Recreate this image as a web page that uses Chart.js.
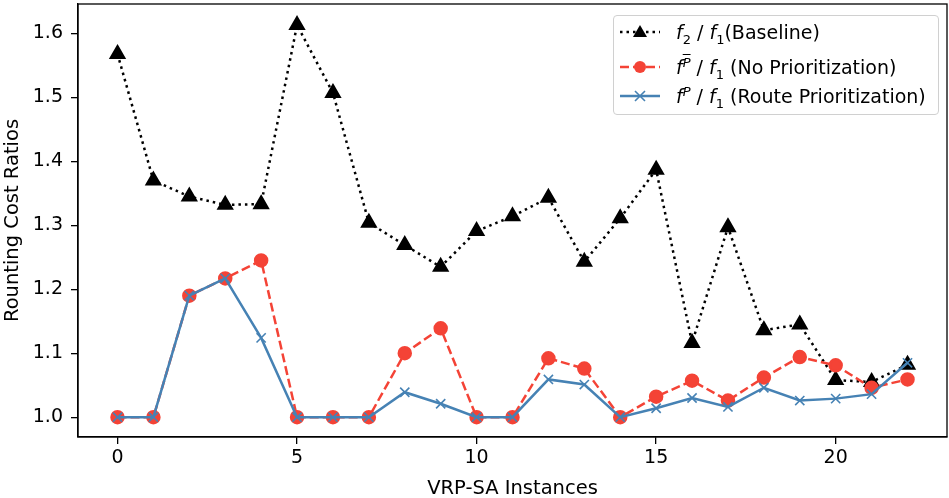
<!DOCTYPE html>
<html>
<head>
<meta charset="utf-8">
<script src="https://cdn.jsdelivr.net/npm/chart.js@4.4.1/dist/chart.umd.min.js"></script>
<style>
  html,body{margin:0;padding:0;background:#fff;}
  #wrap{position:relative;width:949px;height:498px;font-family:"DejaVu Sans",sans-serif;}
  #legend{position:absolute;left:613px;top:15px;width:326px;height:100px;border:1px solid #d0d0d0;border-radius:4px;background:rgba(255,255,255,0.85);box-sizing:border-box;}
  .row{position:absolute;left:0;height:30px;display:flex;align-items:center;font-size:19px;color:#000;white-space:nowrap;}
  .row svg{margin-left:4px;margin-right:14px;}
  .row i{font-style:italic;}
  .row sub,.row sup{font-size:13px;line-height:0;}
  .ov{text-decoration:overline;}
</style>
</head>
<body>
<div id="wrap">
  <canvas id="c" width="949" height="498"></canvas>
  <div id="legend">
    <div class="row" style="top:1px"><svg width="44" height="20"><line x1="2" y1="10" x2="42" y2="10" stroke="#000" stroke-width="2.5" stroke-dasharray="2.5,4"/><polygon points="22,3 29,15 15,15" fill="#000"/></svg><span><i>f</i><sub>2</sub> / <i>f</i><sub>1</sub>(Baseline)</span></div>
    <div class="row" style="top:36px"><svg width="44" height="20"><line x1="2" y1="10" x2="42" y2="10" stroke="#f44336" stroke-width="2.5" stroke-dasharray="9,4"/><circle cx="22" cy="10" r="6" fill="#f44336"/></svg><span><i>f</i><sup><i class="ov">P</i></sup> / <i>f</i><sub>1</sub> (No Prioritization)</span></div>
    <div class="row" style="top:65px"><svg width="44" height="20"><line x1="2" y1="10" x2="42" y2="10" stroke="#4682b4" stroke-width="2.5"/><path d="M17,5 L27,15 M27,5 L17,15" stroke="#4682b4" stroke-width="1.6"/></svg><span><i>f</i><sup><i>P</i></sup> / <i>f</i><sub>1</sub> (Route Prioritization)</span></div>
  </div>
</div>
<script>
const instances = [0,1,2,3,4,5,6,7,8,9,10,11,12,13,14,15,16,17,18,19,20,21,22];
const baseline = [1.568,1.370,1.345,1.332,1.333,1.613,1.507,1.304,1.269,1.235,1.291,1.314,1.343,1.243,1.311,1.387,1.116,1.297,1.136,1.145,1.058,1.055,1.082];
const noPrior = [1.0,1.0,1.190,1.217,1.245,1.0,1.0,1.0,1.100,1.139,1.0,1.0,1.092,1.076,1.0,1.032,1.057,1.026,1.062,1.094,1.081,1.046,1.059];
const routePrior = [1.0,1.0,1.190,1.217,1.124,1.0,1.0,1.0,1.039,1.021,1.0,1.0,1.059,1.051,1.0,1.014,1.030,1.016,1.046,1.026,1.029,1.036,1.085];
const xTicks = [0,5,10,15,20];
const yTicks = [1.0,1.1,1.2,1.3,1.4,1.5,1.6];

function pts(arr){ return arr.map((v,i)=>({x:instances[i], y:v})); }

// top and right spines
const frame = {
  id:'frame',
  afterDraw(chart){
    const a = chart.chartArea, ctx = chart.ctx;
    ctx.save();
    ctx.strokeStyle = '#000'; ctx.lineWidth = 1.3;
    ctx.strokeRect(a.left, a.top, a.right-a.left, a.bottom-a.top);
    ctx.restore();
  }
};

const font = {family:'"DejaVu Sans", sans-serif', size:19};
const titleFont = {family:'"DejaVu Sans", sans-serif', size:19.5};

new Chart(document.getElementById('c'), {
  type:'line',
  data:{
    datasets:[
      {label:'f2 / f1(Baseline)', data:pts(baseline), borderColor:'#000', backgroundColor:'#000', borderWidth:2.5, borderDash:[2.5,4], pointStyle:'triangle', pointRadius:7.5, pointHoverRadius:7.5, order:2},
      {label:'fP̄ / f1 (No Prioritization)', data:pts(noPrior), borderColor:'#f44336', backgroundColor:'#f44336', borderWidth:2.5, borderDash:[9,4], pointStyle:'circle', pointRadius:6, pointHoverRadius:6, order:1},
      {label:'fP / f1 (Route Prioritization)', data:pts(routePrior), borderColor:'#4682b4', backgroundColor:'#4682b4', borderWidth:2.5, pointStyle:'crossRot', pointRadius:6.5, pointBorderWidth:1.6, pointHoverRadius:6.5, order:0}
    ]
  },
  options:{
    responsive:false, animation:false,
    layout:{autoPadding:false, padding:{top:4, right:2, left:0, bottom:0}},
    plugins:{legend:{display:false}, tooltip:{enabled:false}},
    scales:{
      x:{
        type:'linear', min:-1.1, max:23.1,
        afterBuildTicks(s){ s.ticks = xTicks.map(v=>({value:v})); },
        afterFit(s){ s.height = 61; s.paddingLeft = 0; s.paddingRight = 0; },
        grid:{display:true, drawOnChartArea:false, tickLength:7, color:'#000', lineWidth:1.3},
        border:{display:true, color:'#000', width:1.3},
        ticks:{color:'#000', font:font, padding:3, maxRotation:0, callback:v=>String(v)},
        title:{display:true, text:'VRP-SA Instances', color:'#000', font:titleFont, padding:{top:0,bottom:-3}}
      },
      y:{
        min:0.969, max:1.646,
        afterBuildTicks(s){ s.ticks = yTicks.map(v=>({value:v})); },
        afterFit(s){ s.width = 78; s.paddingTop = 0; s.paddingBottom = 0; },
        grid:{display:true, drawOnChartArea:false, tickLength:7, color:'#000', lineWidth:1.3},
        border:{display:true, color:'#000', width:1.3},
        ticks:{color:'#000', font:font, padding:8, callback:v=>v.toFixed(1)},
        title:{display:true, text:'Rounting Cost Ratios', color:'#000', font:titleFont, padding:{top:1,bottom:0}}
      }
    }
  },
  plugins:[frame]
});
</script>
</body>
</html>
